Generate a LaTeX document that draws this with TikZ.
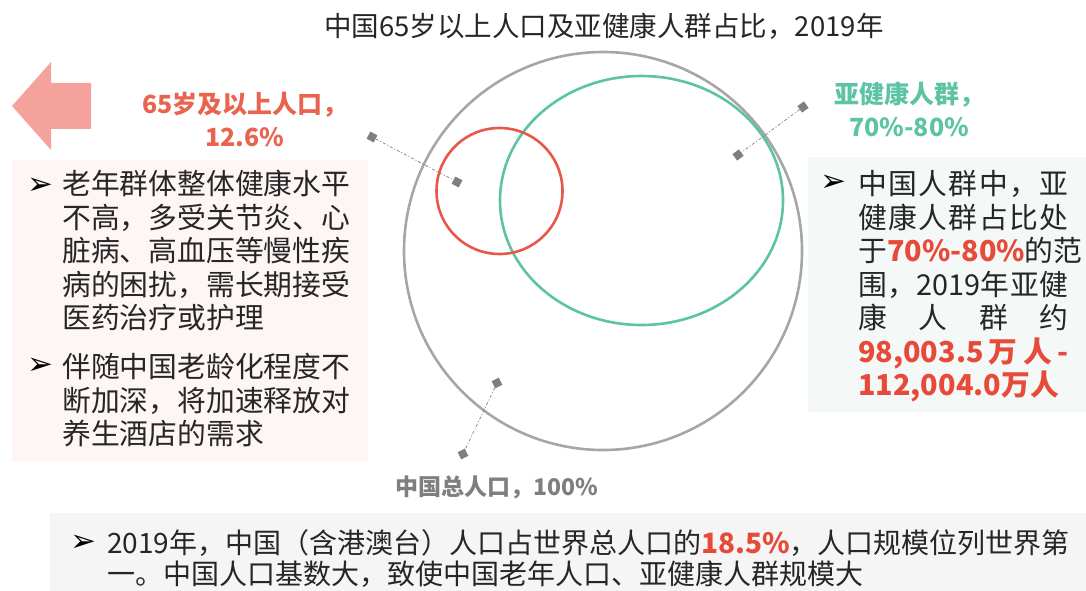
\documentclass[tikz,border=0pt]{standalone}
\usepackage{fontspec}
\setmainfont{Noto Sans CJK SC}
\newfontfamily\symfont{DejaVu Sans}
\usetikzlibrary{positioning}
\definecolor{arrowpink}{HTML}{F4A29B}
\definecolor{agered}{HTML}{E9634F}
\definecolor{circlered}{HTML}{E8574A}
\definecolor{subteal}{HTML}{5CC4A4}
\definecolor{ringgray}{HTML}{A6A6A6}
\definecolor{taggray}{HTML}{7F7F7F}
\definecolor{hotred}{HTML}{E84A3A}
\definecolor{textdark}{HTML}{262626}
\definecolor{leftbg}{HTML}{FDF6F5}
\definecolor{rightbg}{HTML}{F4F8F7}
\definecolor{bottombg}{HTML}{F5F5F5}
\newcommand{\hot}[1]{{\bfseries\color{hotred}#1}}
\newcommand{\pt}{{\symfont ➢}}
\newcommand{\spread}[1]{\makebox[210pt][l]{#1}}

\begin{document}
\begin{tikzpicture}[x=1pt,y=-1pt,
  tag/.style={rectangle,fill=taggray,inner sep=0pt,minimum size=8pt},
  leader/.style={draw=taggray,line width=0.7pt,dash pattern=on 3pt off 2pt on 1pt off 2pt},
  body/.style={inner sep=0pt,align=left,anchor=base west,text=textdark,
    font=\fontsize{28.8}{33.5}\selectfont},
  pointer/.style={inner sep=0pt,text=black,font=\fontsize{31}{31}\selectfont},
  caption/.style={inner sep=0pt,align=center,font=\bfseries\fontsize{25}{33}\selectfont}]

  \useasboundingbox (0,0) rectangle (1086,591);

  % panels
  \fill[leftbg] (12,160) rectangle (368,462);
  \fill[rightbg] (808,157) rectangle (1086,412);
  \fill[bottombg] (50,513) rectangle (1086,591);

  \fill[arrowpink] (12,106) -- (51,62) -- (51,83) -- (91,83) -- (91,129)
    -- (51,129) -- (51,150) -- cycle;

  % venn
  \draw[ringgray,line width=2.6pt] (603,251) circle (199);
  \draw[subteal,line width=2.6pt] (641.5,200.5) ellipse [x radius=141.5,y radius=124.5];
  \draw[circlered,line width=2.6pt] (499.5,191) circle (63);

  \node[text=textdark,inner sep=0pt,font=\fontsize{27.5}{30}\selectfont] (title) at (604,26)
    {中国65岁以上人口及亚健康人群占比，2019年};

  \node[caption,text=agered] (agelabel) at (245,119.5) {65岁及以上人口，\\12.6\%};
  \node[caption,text=subteal] (sublabel) at (909,109) {亚健康人群，\\70\%-80\%};
  \node[caption,text=taggray,font=\bfseries\fontsize{23}{33}\selectfont] (totallabel) at (497,487) {中国总人口，100\%};

  % leaders
  \node[tag,rotate=-28] (ageout) at (372,137) {};
  \node[tag,rotate=-28] (agein) at (457,182) {};
  \node[tag,rotate=36] (subout) at (803,107) {};
  \node[tag,rotate=36] (subin) at (738,155) {};
  \node[tag,rotate=-64] (totalin) at (497,383) {};
  \node[tag,rotate=-64] (totalout) at (463,454) {};
  \draw[leader] (ageout) -- (agein);
  \draw[leader] (subout) -- (subin);
  \draw[leader] (totalin) -- (totalout);

  % left notes (anchored at the baseline of the last line)
  \node[pointer] (p1) at (40,186) {\pt};
  \node[body] (note1) at (62,328.5) {老年群体整体健康水平\\不高，多受关节炎、心\\脏病、高血压等慢性疾\\病的困扰，需长期接受\\医药治疗或护理};
  \node[pointer] (p2) at (40,366) {\pt};
  \node[body] (note2) at (62,444.5) {伴随中国老龄化程度不\\断加深，将加速释放对\\养生酒店的需求};

  % right note
  \node[pointer] (p3) at (833,183) {\pt};
  \node[body] (note3) at (858,395.5) {%
    \spread{中\hfill 国\hfill 人\hfill 群\hfill 中\hfill ，\hfill 亚}\\
    \spread{健\hfill 康\hfill 人\hfill 群\hfill 占\hfill 比\hfill 处}\\
    \spread{于\hfill \hot{70\%-80\%}\hfill 的\hfill 范}\\
    \spread{围\hfill ，\hfill 2019\hfill 年\hfill 亚\hfill 健}\\
    \spread{康\hfill 人\hfill 群\hfill 约}\\
    \spread{\hot{98,003.5}\hfill \hot{万}\hfill \hot{人}\hfill \hot{-}}\\
    \hot{112,004.0万人}};

  % bottom note
  \node[pointer] (p4) at (83,543) {\pt};
  \node[body,font=\fontsize{28}{31}\selectfont] (note4) at (107,584.5)
    {2019年，中国（含港澳台）人口占世界总人口的\hot{18.5\%}，人口规模位列世界第\\一。中国人口基数大，致使中国老年人口、亚健康人群规模大};
\end{tikzpicture}
\end{document}
